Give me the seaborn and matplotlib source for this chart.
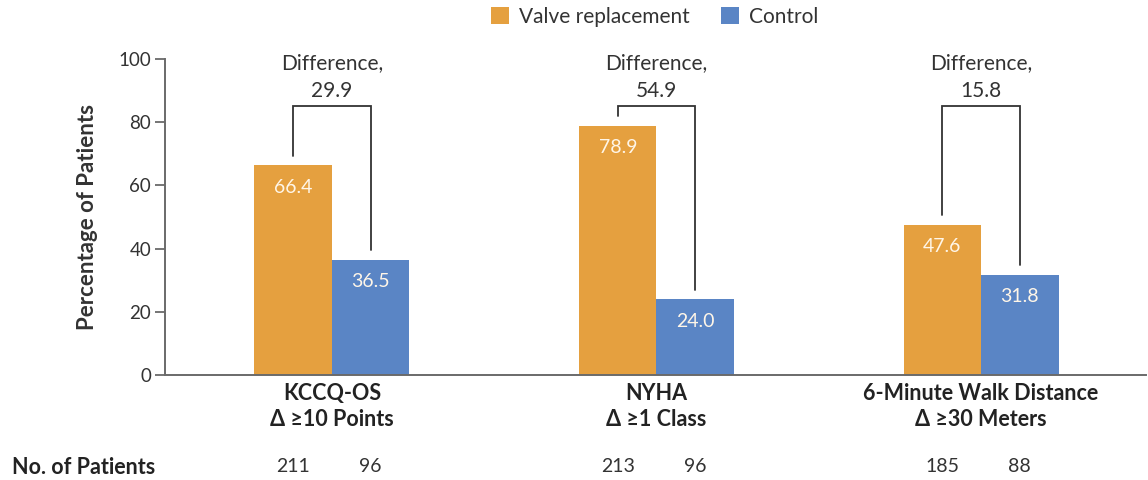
import matplotlib
matplotlib.use("Agg")
import matplotlib.pyplot as plt
import matplotlib.patches as mpatches
import matplotlib.transforms as mtransforms
import pandas as pd
import seaborn as sns

# Outcome categories and results per arm
categories = ["KCCQ-OS\nΔ ≥10 Points", "NYHA\nΔ ≥1 Class", "6-Minute Walk Distance\nΔ ≥30 Meters"]
groups = ["Valve replacement", "Control"]
valve_pct = [66.4, 78.9, 47.6]
control_pct = [36.5, 24.0, 31.8]
differences = [29.9, 54.9, 15.8]
valve_n = [211, 213, 185]
control_n = [96, 96, 88]

ORANGE = "#E5A03F"
BLUE = "#5A85C5"
INK = "#333333"
SPINE = "#6a6a6a"

sns.set_theme(style="white")
regular = ["Lato", "DejaVu Sans"]
plt.rcParams["font.family"] = regular

df = pd.DataFrame({
    "category": categories * 2,
    "group": [groups[0]] * 3 + [groups[1]] * 3,
    "value": valve_pct + control_pct,
})

fig = plt.figure(figsize=(11.48, 4.8), dpi=100)
ax = fig.add_axes([165 / 1148, 105 / 480, (1146 - 165) / 1148, (375 - 59) / 480])

sns.barplot(data=df, x="category", y="value", hue="group", order=categories,
            hue_order=groups, palette=[ORANGE, BLUE], saturation=1, width=0.477,
            legend=False, linewidth=0, edgecolor="none", ax=ax)

ax.set_xlim(-0.514, 2.508)
ax.set_ylim(0, 100)
ax.set_yticks(range(0, 101, 20))
ax.set_xlabel("")
ax.set_ylabel("Percentage of Patients", fontsize=16, fontweight="bold", color=INK)
ax.yaxis.set_label_coords(-0.068, 0.5)

for side in ("top", "right"):
    ax.spines[side].set_visible(False)
for side in ("left", "bottom"):
    ax.spines[side].set_color(SPINE)
    ax.spines[side].set_linewidth(1.4)

ax.tick_params(axis="y", direction="out", length=7, width=1.3, color=SPINE,
               labelsize=13.5, labelcolor=INK, pad=3, left=True)
ax.tick_params(axis="x", length=0, pad=6)
ax.set_xticks(range(len(categories)))
ax.set_xticklabels(categories, fontsize=15.5, fontweight="bold", color="#222222",
                   linespacing=1.3)

# Values printed inside the top of each bar
for cont, vals in zip(ax.containers, [valve_pct, control_pct]):
    ax.bar_label(cont, labels=[f"{v:.1f}" for v in vals], label_type="edge",
                 padding=-22, color="#FFF6E8", fontsize=14)

# Difference brackets joining each pair of bars
valve_bars = list(ax.containers[0])
control_bars = list(ax.containers[1])
bracket_top = 85
gap = 3
for i in range(len(categories)):
    xa = valve_bars[i].get_x() + valve_bars[i].get_width() / 2
    xb = control_bars[i].get_x() + control_bars[i].get_width() / 2
    ax.plot([xa, xa, xb, xb],
            [valve_pct[i] + gap, bracket_top, bracket_top, control_pct[i] + gap],
            color=INK, lw=1.3, solid_joinstyle="miter", clip_on=False)
    xc = (xa + xb) / 2
    ax.text(xc, 98.7, "Difference,", ha="center", va="center", fontsize=15,
            color=INK, clip_on=False)
    ax.text(xc, 89.8, f"{differences[i]:.1f}", ha="center", va="center",
            fontsize=15, color=INK, clip_on=False)

# Patient counts below the axis
trans = mtransforms.blended_transform_factory(ax.transData, ax.transAxes)
y_counts = (375 - 467) / 316
for i in range(len(categories)):
    for bar, n in ((valve_bars[i], valve_n[i]), (control_bars[i], control_n[i])):
        ax.text(bar.get_x() + bar.get_width() / 2, y_counts, str(n), transform=trans,
                ha="center", va="center", fontsize=14, color=INK, clip_on=False)
fig.text(12 / 1148, 1 - 467 / 480, "No. of Patients", ha="left", va="center",
         fontsize=15.5, fontweight="bold", color="#222222")

handles = [mpatches.Patch(facecolor=ORANGE, edgecolor="none", label=groups[0]),
           mpatches.Patch(facecolor=BLUE, edgecolor="none", label=groups[1])]
fig.legend(handles=handles, loc="center", bbox_to_anchor=(655 / 1148, 1 - 17 / 480),
           ncol=2, frameon=False, fontsize=15, handlelength=0.85, handleheight=0.85,
           handletextpad=0.5, columnspacing=1.5, labelcolor=INK)

fig.savefig("out.png", dpi=100)
